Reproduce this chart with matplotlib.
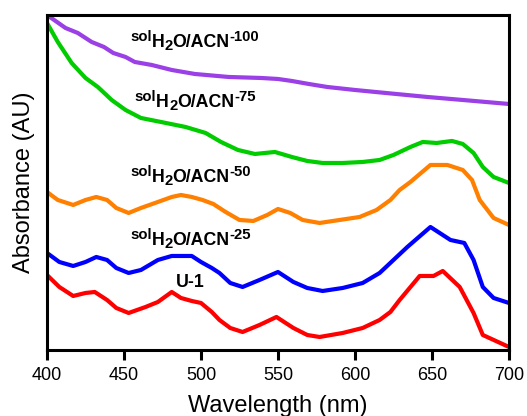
import numpy as np
import matplotlib.pyplot as plt
from matplotlib.transforms import offset_copy

plt.rcParams['font.family'] = ['Liberation Sans', 'DejaVu Sans']

# Spectra (absorbance in arbitrary units, offset stacked)
wl_100 = [400, 412, 420, 429, 437, 443, 451, 457, 468, 481, 496, 518, 539, 550, 559, 570, 582, 600, 620, 647, 670, 700]
abs_100 = [335, 322, 317, 308, 303, 297, 293, 288, 285, 280, 276, 273, 272, 271, 269, 266, 263, 260, 257, 253, 250, 246]

wl_75 = [400, 407, 416, 425, 433, 442, 451, 461, 474, 490, 503, 513, 524, 535, 548, 559, 569, 579, 592, 605, 616, 625, 636, 644, 653, 663, 670, 677, 683, 690, 700]
abs_75 = [327, 308, 287, 272, 263, 250, 240, 232, 228, 223, 217, 208, 200, 196, 198, 193, 189, 187, 187, 188, 190, 195, 203, 208, 207, 209, 206, 197, 183, 173, 167]

wl_50 = [400, 407, 417, 425, 432, 439, 445, 453, 461, 472, 481, 487, 494, 501, 508, 516, 525, 534, 543, 550, 558, 566, 577, 590, 603, 614, 623, 629, 636, 649, 660, 670, 676, 681, 690, 700]
abs_50 = [158, 150, 145, 150, 153, 150, 142, 137, 142, 148, 153, 155, 153, 150, 146, 138, 130, 129, 135, 141, 137, 130, 127, 130, 133, 140, 150, 160, 168, 185, 185, 180, 170, 150, 132, 125]

wl_25 = [400, 408, 417, 425, 432, 439, 445, 453, 461, 472, 481, 494, 500, 507, 512, 519, 527, 538, 550, 560, 569, 579, 592, 605, 616, 625, 634, 649, 662, 671, 677, 683, 690, 700]
abs_25 = [97, 88, 84, 88, 93, 90, 82, 77, 80, 90, 94, 94, 88, 82, 77, 67, 63, 70, 78, 68, 62, 59, 62, 67, 77, 90, 103, 123, 110, 107, 90, 63, 52, 47]

wl_u1 = [400, 408, 417, 425, 431, 439, 445, 453, 464, 472, 481, 487, 494, 500, 507, 512, 519, 527, 538, 549, 560, 569, 577, 592, 605, 616, 623, 629, 642, 651, 657, 668, 677, 683, 700]
abs_u1 = [75, 63, 54, 57, 58, 50, 42, 37, 43, 48, 58, 52, 49, 47, 38, 30, 22, 18, 25, 33, 22, 15, 13, 17, 22, 30, 38, 50, 74, 74, 79, 63, 37, 15, 3]

colors = ['#9b3fe6', '#00cc00', '#ff8000', '#0000ff', '#ff0000']
suffixes = ['-100', '-75', '-50', '-25']
label_pos = [(454, 303), (457, 243), (454, 168), (454, 105)]

fig = plt.figure(figsize=(5.27, 4.16), dpi=100)
ax = fig.add_axes([0.0892, 0.1587, 0.8766, 0.8053])
ax.set_xlim(400, 700)
ax.set_ylim(0, 335)

for wl, ab, color in zip([wl_100, wl_75, wl_50, wl_25, wl_u1],
                         [abs_100, abs_75, abs_50, abs_25, abs_u1], colors):
    ax.plot(wl, ab, color=color, lw=3.0, solid_joinstyle='round', solid_capstyle='round')

renderer = fig.canvas.get_renderer()


def rich_label(x, y, parts):
    dx = 0
    for s, size, dy in parts:
        tr = offset_copy(ax.transData, fig=fig, x=dx, y=dy, units='dots')
        t = ax.text(x, y, s, fontsize=size, fontweight='bold', va='baseline', ha='left', transform=tr)
        dx += t.get_window_extent(renderer).width


for suf, (x, y) in zip(suffixes, label_pos):
    rich_label(x, y, [('sol', 10.7, 6), ('H', 12.8, 0), ('2', 10.7, -3), ('O/ACN', 12.8, 0), (suf, 10.7, 6)])
rich_label(484, 63, [('U-1', 12.8, 0)])

ax.set_xticks([400, 450, 500, 550, 600, 650, 700])
ax.set_yticks([])
ax.tick_params(axis='x', direction='out', length=7, width=2.2, labelsize=13, pad=5)
for sp in ax.spines.values():
    sp.set_linewidth(2.2)
ax.set_xlabel('Wavelength (nm)', fontsize=17, labelpad=8)
ax.set_ylabel('Absorbance (AU)', fontsize=17, labelpad=9)

fig.savefig('out.png', dpi=100)
